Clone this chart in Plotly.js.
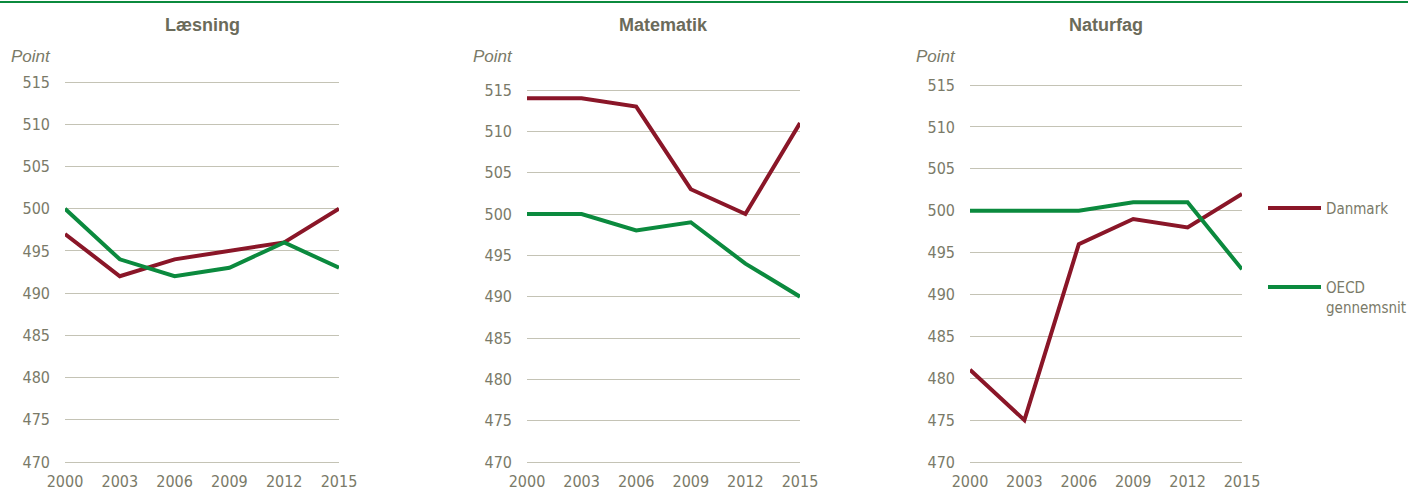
<!DOCTYPE html>
<html><head><meta charset="utf-8">
<script src="https://cdn.plot.ly/plotly-3.0.1.min.js"></script>
<style>html,body{margin:0;padding:0;background:#fff}#chart{width:1408px;height:492px}</style>
</head><body><div id="chart"></div>
<script>
const years = ['2000','2003','2006','2009','2012','2015'];
const panelTitles = ['Læsning','Matematik','Naturfag'];
const seriesNames = ['Danmark','OECD gennemsnit'];
const laesningDK = [497, 492, 494, 495, 496, 500];
const laesningOECD = [500, 494, 492, 493, 496, 493];
const matematikDK = [514, 514, 513, 503, 500, 511];
const matematikOECD = [500, 500, 498, 499, 494, 490];
const naturfagDK = [481, 475, 496, 499, 498, 502];
const naturfagOECD = [500, 500, 500, 501, 501, 493];
const yTicks = [470, 475, 480, 485, 490, 495, 500, 505, 510, 515];

const W = 1408, H = 492;
const RED = '#8a1628', GREEN = '#0b8a3e', GRID = '#c4c3b5', TXT = '#7a7a68', TITLE = '#6b6b5a';
const FONT = '"Liberation Sans Narrow","Arial Narrow","DejaVu Sans Condensed","Liberation Sans",sans-serif';
const PAD = 0.15;

const panels = [
  {dk: laesningDK, oecd: laesningOECD, x0: 65, x1: 339, top: 82, bot: 462},
  {dk: matematikDK, oecd: matematikOECD, x0: 527, x1: 800, top: 90, bot: 462},
  {dk: naturfagDK, oecd: naturfagOECD, x0: 970, x1: 1242, top: 85, bot: 462}
];

const data = [];
const layout = {
  width: W, height: H, margin: {l:0, r:0, t:0, b:0},
  paper_bgcolor: '#fff', plot_bgcolor: '#fff', showlegend: false,
  font: {family: FONT, color: TXT, size: 16},
  annotations: [], shapes: []
};

panels.forEach((p, i) => {
  const s = i === 0 ? '' : String(i + 1);
  const ppu = (p.bot - p.top) / 45;
  data.push({x: years, y: p.dk, type: 'scatter', mode: 'lines', name: seriesNames[0],
    line: {color: RED, width: 4}, xaxis: 'x' + s, yaxis: 'y' + s});
  data.push({x: years, y: p.oecd, type: 'scatter', mode: 'lines', name: seriesNames[1],
    line: {color: GREEN, width: 4}, xaxis: 'x' + s, yaxis: 'y' + s});
  layout['xaxis' + s] = {
    domain: [p.x0 / W, p.x1 / W], anchor: 'y' + s, type: 'category',
    range: [0, years.length - 1], showgrid: false, zeroline: false, showline: false,
    ticks: '', tickfont: {family: FONT, size: 16, color: TXT}, ticklabelstandoff: 7,
    fixedrange: true
  };
  layout['yaxis' + s] = {
    domain: [(H - p.bot - PAD * ppu) / H, (H - p.top + PAD * ppu) / H], anchor: 'x' + s,
    range: [470 - PAD, 515 + PAD], tickvals: yTicks, showgrid: true, gridcolor: GRID, gridwidth: 1,
    zeroline: false, showline: false, ticks: '',
    tickfont: {family: FONT, size: 16, color: TXT}, ticklabelstandoff: 14, fixedrange: true
  };
  layout.annotations.push({
    text: '<b>' + panelTitles[i] + '</b>', xref: 'paper', yref: 'paper',
    x: ((p.x0 + p.x1) / 2) / W, y: (H - 25) / H, xanchor: 'center', yanchor: 'middle',
    showarrow: false, font: {family: '"Liberation Sans",Arial,sans-serif', size: 18, color: TITLE}
  });
  layout.annotations.push({
    text: '<i>Point</i>', xref: 'paper', yref: 'paper',
    x: (p.x0 - 12) / W, y: (H - 57) / H, xanchor: 'right', yanchor: 'middle',
    showarrow: false, font: {family: '"Liberation Sans",Arial,sans-serif', size: 17, color: TXT}
  });
});

// top rule
layout.shapes.push({type: 'line', xref: 'paper', yref: 'paper', x0: 0, x1: 1, y0: (H - 2) / H, y1: (H - 2) / H,
  line: {color: '#0b8a3e', width: 2}});
// legend
const legend = [{name: seriesNames[0], color: RED, y: 208}, {name: 'OECD<br>gennemsnit', color: GREEN, y: 287}];
legend.forEach(l => {
  layout.shapes.push({type: 'line', xref: 'paper', yref: 'paper', x0: 1268 / W, x1: 1321 / W,
    y0: (H - l.y) / H, y1: (H - l.y) / H, line: {color: l.color, width: 4}});
  layout.annotations.push({text: l.name, xref: 'paper', yref: 'paper', x: 1324 / W, y: (H - l.y + 10) / H,
    xanchor: 'left', yanchor: 'top', align: 'left', showarrow: false,
    font: {family: FONT, size: 15, color: TXT}});
});

Plotly.newPlot('chart', data, layout, {displayModeBar: false, staticPlot: true});
</script></body></html>
